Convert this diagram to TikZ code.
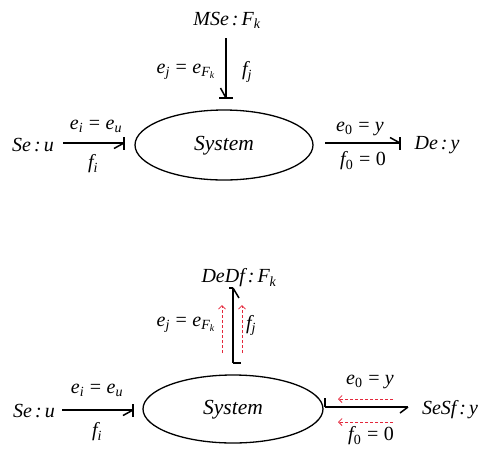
\documentclass[tikz,border=0pt]{standalone}
\usepackage{fontspec}
\setmainfont{Liberation Serif}
\usetikzlibrary{arrows.meta,shapes.geometric}
\definecolor{flowred}{RGB}{228,40,60}
\newcommand{\lsub}[1]{\textsubscript{#1}}
\newcommand{\eqq}{\kern4.5pt=\kern4.5pt}
\newcommand{\colq}{\kern3pt:\kern3pt}
\tikzset{
  lbl/.style={inner sep=0pt, font=\fontsize{20}{23}\selectfont\itshape},
  syslbl/.style={inner sep=0pt, font=\fontsize{21.5}{24}\selectfont\itshape},
  bond/.style={line width=1.5pt, line cap=butt},
  stroke/.style={line width=1.5pt},
  sys/.style={draw, ellipse, line width=1.3pt, inner sep=0pt},
  redflow/.style={draw=flowred, line width=0.8pt, dash pattern=on 3pt off 2pt,
    -{Straight Barb[length=3.5pt,width=7pt,line width=0.8pt]}}
}
\begin{document}
\begin{tikzpicture}[x=1pt,y=-1pt]
\useasboundingbox (0,0) rectangle (488,448);

% ---------------- top diagram ----------------
\node[sys, minimum width=178pt, minimum height=70pt] (sysA) at (224,145) {};
\node[syslbl] (sysAt) at (224,146) {System};
\node[lbl] (mse) at (227,20) {MSe\colq F\lsub{k}};
\node[lbl] (seA) at (33,145) {Se\colq u};
\node[lbl] (de) at (437,145) {De\colq y};

\coordinate (vA1) at (226,38);
\coordinate (vA2) at (226,98);
\draw[bond] (vA1) -- (vA2);
\draw[bond] (vA2) -- ++(-5.5,-10);
\draw[stroke] ([xshift=-7pt]vA2) -- ([xshift=7pt]vA2);
\node[lbl] (ejA) at (186,72) {e\lsub{j}\eqq e\lsub{F\lsub{k}}};
\node[lbl] (fjA) at (247,72) {f\lsub{j}};

\coordinate (lA1) at (63,143);
\coordinate (lA2) at (124,143);
\draw[bond] (lA1) -- (lA2);
\draw[bond] (lA2) -- ++(-10,5.5);
\draw[stroke] ([yshift=-6.5pt]lA2) -- ([yshift=6.5pt]lA2);
\node[lbl] (eiA) at (96,126) {e\lsub{i}\eqq e\lsub{u}};
\node[lbl] (fiA) at (93,164) {f\lsub{i}};

\coordinate (rA1) at (325,143);
\coordinate (rA2) at (400,143);
\draw[bond] (rA1) -- (rA2);
\draw[bond] (rA2) -- ++(-10,-5.5);
\draw[stroke] ([yshift=-6.5pt]rA2) -- ([yshift=6.5pt]rA2);
\node[lbl] (eoA) at (360,129) {e\lsub{\upshape 0}\eqq y};
\node[lbl] (foA) at (363,161) {f\lsub{\upshape 0}\eqq{\upshape 0}};

% ---------------- bottom diagram ----------------
\node[sys, minimum width=180pt, minimum height=68pt] (sysB) at (233,409) {};
\node[syslbl] (sysBt) at (233,410) {System};
\node[lbl] (dedf) at (239,278) {DeDf\colq F\lsub{k}};
\node[lbl] (seB) at (34,411) {Se\colq u};
\node[lbl] (sesf) at (450,410) {SeSf\colq y};

\coordinate (vB1) at (233,288);
\coordinate (vB2) at (233,363);
\draw[bond] (vB2) -- (vB1);
\draw[bond] (vB1) -- ++(6,10);
\draw[stroke] ([xshift=-4pt]vB1) -- (vB1);
\draw[stroke] (vB2) -- ([xshift=8pt]vB2);
\coordinate (rfa1) at (222,353);
\coordinate (rfa2) at (222,305);
\coordinate (rfb1) at (242,353);
\coordinate (rfb2) at (242,305);
\draw[redflow] (rfa1) -- (rfa2);
\draw[redflow] (rfb1) -- (rfb2);
\node[lbl] (ejB) at (186,325) {e\lsub{j}\eqq e\lsub{F\lsub{k}}};
\node[lbl] (fjB) at (251,325) {f\lsub{j}};

\coordinate (lB1) at (62,410);
\coordinate (lB2) at (133,410);
\draw[bond] (lB1) -- (lB2);
\draw[bond] (lB2) -- ++(-10,5.5);
\draw[stroke] ([yshift=-6.5pt]lB2) -- ([yshift=6.5pt]lB2);
\node[lbl] (eiB) at (97,390) {e\lsub{i}\eqq e\lsub{u}};
\node[lbl] (fiB) at (97,432) {f\lsub{i}};

\coordinate (rB1) at (325,407);
\coordinate (rB2) at (408,407);
\draw[bond] (rB1) -- (rB2);
\draw[bond] (rB2) -- ++(-8,6);
\draw[stroke] (rB1) -- ++(0,-9);
\coordinate (rfc1) at (393,399);
\coordinate (rfc2) at (338,399);
\coordinate (rfd1) at (393,422);
\coordinate (rfd2) at (338,422);
\draw[redflow] (rfc1) -- (rfc2);
\draw[redflow] (rfd1) -- (rfd2);
\node[lbl] (eoB) at (370,382) {e\lsub{\upshape 0}\eqq y};
\node[lbl] (foB) at (371,436) {f\lsub{\upshape 0}\eqq{\upshape 0}};
\end{tikzpicture}
\end{document}
